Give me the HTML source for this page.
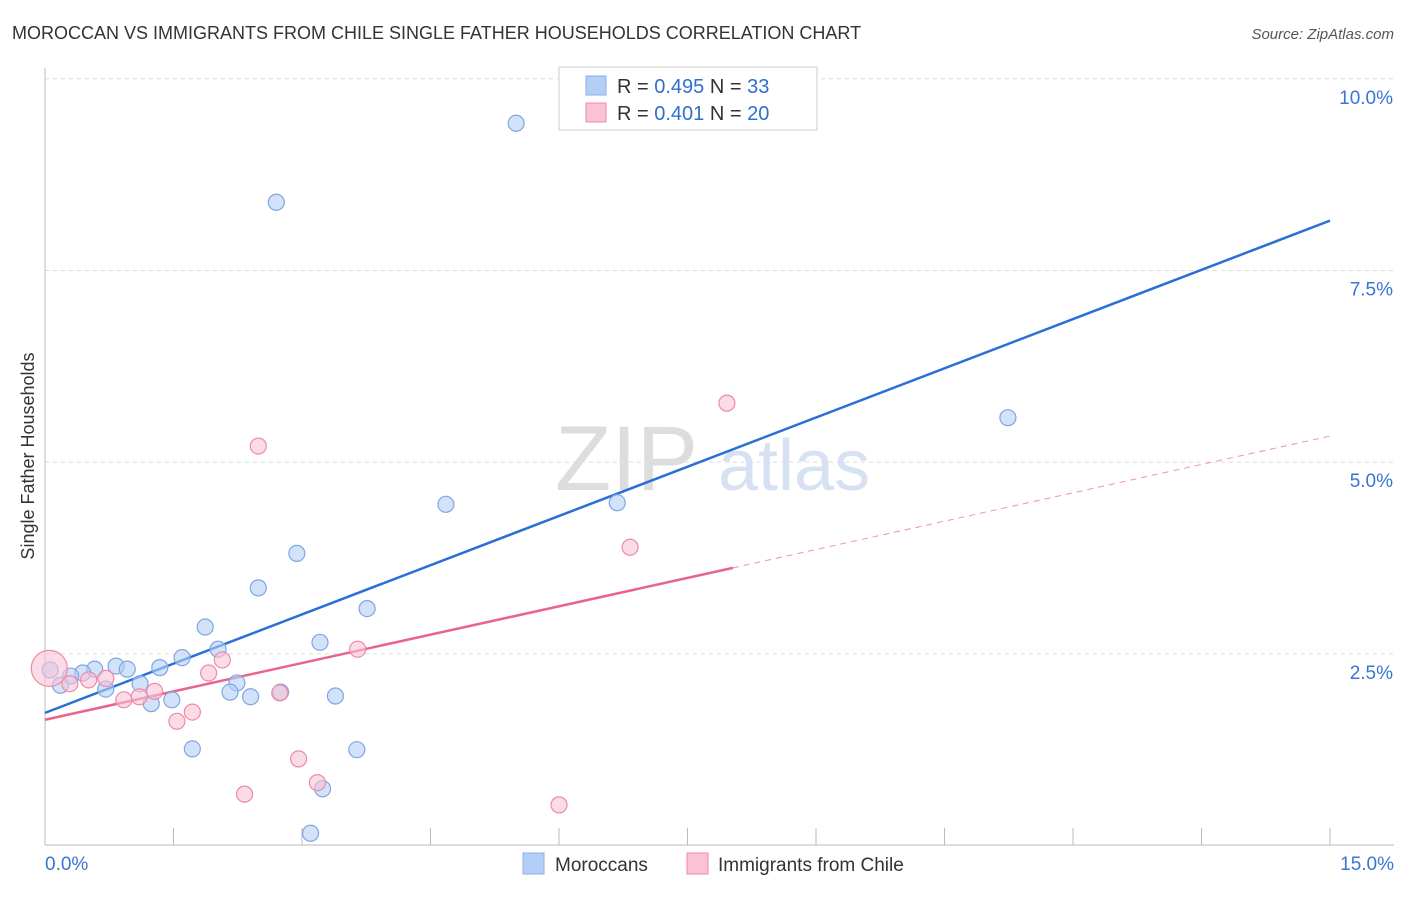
<!DOCTYPE html>
<html><head><meta charset="utf-8"><style>
body{margin:0;background:#fff;font-family:"Liberation Sans",sans-serif;}
svg text{font-family:"Liberation Sans",sans-serif;}
</style></head><body>
<svg id="chart" width="1406" height="892" viewBox="0 0 1406 892">
<text x="12" y="39" font-size="18" fill="#333">MOROCCAN VS IMMIGRANTS FROM CHILE SINGLE FATHER HOUSEHOLDS CORRELATION CHART</text>
<text x="1394" y="39" font-size="15" fill="#555" text-anchor="end" font-style="italic">Source: ZipAtlas.com</text>
<g>
<text x="555" y="490" font-size="92" fill="#ddd" font-family="Liberation Serif">ZIP</text>
<text x="718" y="490" font-size="72" fill="#d6e2f3">atlas</text>
</g>
<g id="grid"></g>
<g id="axes"></g>
<text transform="translate(34,456) rotate(-90)" font-size="18" fill="#333" text-anchor="middle">Single Father Households</text>
<g id="lines"></g>
<g id="points"></g>
<g>
<rect x="559" y="67" width="258" height="63" fill="#fff" stroke="#ccc"/>
<rect x="586" y="76" width="20" height="19" fill="#b3cff5" stroke="#8ab0e8"/>
<rect x="586" y="103" width="20" height="19" fill="#f9c3d3" stroke="#f08aa8"/>
<text x="617" y="93" font-size="20" fill="#333">R = <tspan fill="#2f6fd0">0.495</tspan>   N = <tspan fill="#2f6fd0">33</tspan></text>
<text x="617" y="120" font-size="20" fill="#333">R = <tspan fill="#2f6fd0">0.401</tspan>   N = <tspan fill="#2f6fd0">20</tspan></text>
</g>
<g>
<rect x="523" y="853" width="21" height="21" fill="#b3cff5" stroke="#8ab0e8"/>
<text x="555" y="871" font-size="19" fill="#333">Moroccans</text>
<rect x="687" y="853" width="21" height="21" fill="#f9c3d3" stroke="#f08aa8"/>
<text x="718" y="871" font-size="19" fill="#333">Immigrants from Chile</text>
</g>
</svg>
<script>
const blueX=[5.50,2.70,11.24,4.68,6.68,2.94,2.49,3.76,1.87,3.21,2.02,1.60,1.34,0.83,0.96,0.58,0.44,0.30,0.18,0.06,0.71,1.11,2.24,1.48,1.24,2.16,2.40,2.75,3.39,1.72,3.64,3.24,3.10];
const blueY=[9.42,8.39,5.58,4.45,4.47,3.81,3.36,3.09,2.85,2.65,2.56,2.45,2.32,2.34,2.30,2.30,2.25,2.21,2.09,2.29,2.04,2.11,2.12,1.90,1.85,2.00,1.94,2.00,1.95,1.26,1.25,0.74,0.16];
const pinkX=[7.96,2.49,6.83,3.65,2.07,1.91,0.05,0.29,0.51,0.71,1.28,1.10,0.92,1.72,1.54,2.74,2.96,3.18,2.33,6.00];
const pinkY=[5.77,5.21,3.89,2.56,2.42,2.25,2.31,2.11,2.16,2.18,2.01,1.94,1.90,1.74,1.62,1.99,1.13,0.82,0.67,0.53];
const blueTrend=[1.73,8.15];
const pinkTrend=[1.64,5.34];
const pinkSolidEnd=8.03;
const yTicks=[2.5,5.0,7.5,10.0];
const yTickLabels=["2.5%","5.0%","7.5%","10.0%"];
const xTicks=[0,1.5,3,4.5,6,7.5,9,10.5,12,13.5,15];
const NS="http://www.w3.org/2000/svg";
const sx=v=>45+v*85.667;
const sy=v=>845.5-v*76.67;
function mk(tag,attrs,parent){const e=document.createElementNS(NS,tag);for(const k in attrs)e.setAttribute(k,attrs[k]);document.getElementById(parent).appendChild(e);return e;}
yTicks.forEach((t,i)=>{
 const g=mk('line',{x1:45,x2:1394,y1:sy(t),y2:sy(t),stroke:'#ddd','stroke-dasharray':'4,4'},'grid');
 
 
 const tx=mk('text',{x:1393,y:sy(t)+25,'font-size':19,fill:'#3a74d4','text-anchor':'end'},'axes');
 tx.textContent=yTickLabels[i];
 
 
});
const ax=mk('line',{x1:45,x2:45,y1:68,y2:845,stroke:'#bbb'},'axes');


const bx=mk('line',{x1:45,x2:1394,y1:845,y2:845,stroke:'#bbb'},'axes');


xTicks.forEach(t=>{
 const l=mk('line',{x1:sx(t),x2:sx(t),y1:828,y2:845,stroke:'#bbb'},'axes');
 
 
});
const xl0=mk('text',{x:45,y:870,'font-size':19,fill:'#3a74d4'},'axes');
xl0.textContent='0.0%';


const xl1=mk('text',{x:1394,y:870,'font-size':19,fill:'#3a74d4','text-anchor':'end'},'axes');
xl1.textContent='15.0%';


function pts(X,Y,fill,stroke,name){X.forEach((x,i)=>{
 const c=mk('circle',{cx:sx(x),cy:sy(Y[i]),r:(name==='point-chile'&&i===6)?18:8,fill:fill,'fill-opacity':0.6,stroke:stroke,'stroke-width':1.2},'points');
 
 
});}
pts(blueX,blueY,'#b3cff5','#7fa6e3','point-moroccans');
pts(pinkX,pinkY,'#f9c3d3','#ee8aa8','point-chile');
const bl=mk('line',{x1:sx(0),y1:sy(blueTrend[0]),x2:sx(15),y2:sy(blueTrend[1]),stroke:'#2a6fd6','stroke-width':2.5},'lines');


const pm=v=>pinkTrend[0]+(pinkTrend[1]-pinkTrend[0])*v/15;
const pl=mk('line',{x1:sx(0),y1:sy(pm(0)),x2:sx(pinkSolidEnd),y2:sy(pm(pinkSolidEnd)),stroke:'#e8638e','stroke-width':2.5},'lines');


const pd=mk('line',{x1:sx(pinkSolidEnd),y1:sy(pm(pinkSolidEnd)),x2:sx(15),y2:sy(pm(15)),stroke:'#e8638e','stroke-width':1,'stroke-dasharray':'6,5','stroke-opacity':0.7},'lines');


</script>
</body></html>
